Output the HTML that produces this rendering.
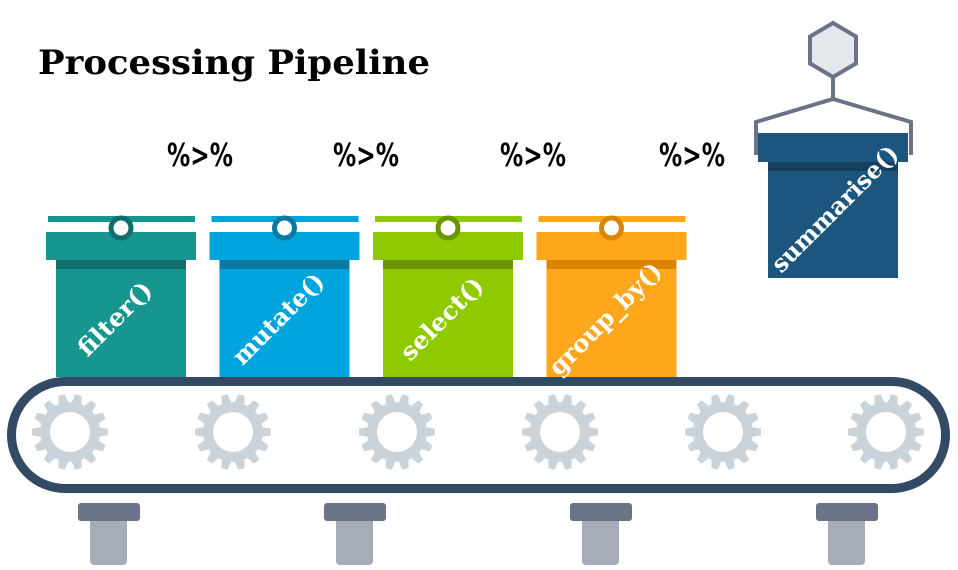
<!DOCTYPE html>
<html><head><meta charset="utf-8">
<style>
html,body{margin:0;padding:0;background:#fff;}
svg{display:block;}
</style></head>
<body>
<svg id="c" width="958" height="570" viewBox="0 0 958 570" xmlns="http://www.w3.org/2000/svg">
<text x="38" y="74" textLength="392" lengthAdjust="spacingAndGlyphs" font-family="DejaVu Serif, serif" font-weight="bold" font-size="34" fill="#000">Processing Pipeline</text>
<g id="gears"></g>
<rect x="11.5" y="381.5" width="934" height="107" rx="53.5" ry="53.5" fill="none" stroke="#324a63" stroke-width="9"/>
<g id="feet"></g>
<g id="boxes"></g>
<g id="pipes"></g>
<g>
  <polygon points="833,23 856,36.5 856,63.5 833,77 810,63.5 810,36.5" fill="#e4e7eb" stroke="#6b7387" stroke-width="4"/>
  <polyline points="833,77 833,99" fill="none" stroke="#6b7387" stroke-width="4"/>
  <polyline points="756,155 756,122 833,99 911,122 911,155" fill="none" stroke="#6b7387" stroke-width="4"/>
  <rect x="758" y="133" width="150" height="29" fill="#1c567f"/>
  <rect x="768" y="162" width="130" height="116" fill="#1c567f"/>
  <rect x="768" y="162" width="130" height="9" fill="#173f5f"/>
  <text x="836" y="210" transform="rotate(-45 836 210)" text-anchor="middle" dominant-baseline="middle" textLength="168" lengthAdjust="spacingAndGlyphs" font-family="DejaVu Serif, serif" font-weight="bold" font-size="24" fill="#fff">summarise()</text>
</g>
</svg>
<script>
const labels = ["filter()", "mutate()", "select()", "group_by()"];
const labelLengths = [94, 118, 106, 148];
const mainColors = ["#17968f", "#00a4dc", "#8fc900", "#ffa61a"];
const darkColors = ["#126e6b", "#0a7aa3", "#6a9500", "#d98500"];
const pipeLabels = ["%>%", "%>%", "%>%", "%>%"];
const pipeX = [200, 366, 533, 692];
const gearX = [70, 233, 397, 560, 723, 886];
const feetX = [78, 324, 570, 816];

const NS = "http://www.w3.org/2000/svg";
function mk(tag, attrs, parent){const e=document.createElementNS(NS,tag);for(const k in attrs)e.setAttribute(k,attrs[k]);parent.appendChild(e);return e;}

const boxes=document.getElementById('boxes');
labels.forEach((lab,i)=>{
  const x0=48+i*163.5;
  const g=mk('g',{},boxes);
  
  
  mk('rect',{x:x0,y:216,width:147,height:6,fill:mainColors[i]},g);
  mk('rect',{x:x0-2,y:232,width:150,height:28,fill:mainColors[i]},g);
  mk('rect',{x:x0+8,y:260,width:130,height:117,fill:mainColors[i]},g);
  mk('rect',{x:x0+8,y:260,width:130,height:9,fill:darkColors[i]},g);
  const c=mk('circle',{cx:x0+73,cy:228,r:10,fill:'#fff',stroke:darkColors[i],'stroke-width':5},g);
  
  
  const cx=x0+68, cy=320;
  const t=mk('text',{x:cx,y:cy,transform:`rotate(-45 ${cx} ${cy})`,'text-anchor':'middle','dominant-baseline':'middle',textLength:labelLengths[i],lengthAdjust:'spacingAndGlyphs','font-family':'DejaVu Serif, serif','font-weight':'bold','font-size':24,fill:'#fff'},g);
  t.textContent=lab;
  
  
});

const pipes=document.getElementById('pipes');
pipeLabels.forEach((p,i)=>{
  const t=mk('text',{x:pipeX[i],y:166,'text-anchor':'middle',textLength:66,lengthAdjust:'spacingAndGlyphs','font-family':'DejaVu Sans, sans-serif','font-weight':'bold','font-size':32,fill:'#000'},pipes);
  t.textContent=p;
  
  
});

const gears=document.getElementById('gears');
gearX.forEach(gx=>{
  const gy=432, n=14, ro=38, ri=30;
  let d='';
  for(let k=0;k<n;k++){
    const a=k*2*Math.PI/n, w=Math.PI/n*0.55;
    const pts=[[ri,a-w*1.3],[ro,a-w*0.7],[ro,a+w*0.7],[ri,a+w*1.3]];
    pts.forEach((p,j)=>{const x=gx+p[0]*Math.cos(p[1]),y=gy+p[0]*Math.sin(p[1]);d+=(k===0&&j===0?'M':'L')+x.toFixed(1)+','+y.toFixed(1);});
  }
  d+='Z';
  const gg=mk('g',{},gears);
  
  
  mk('path',{d:d,fill:'#cbd3da'},gg);
  mk('circle',{cx:gx,cy:gy,r:ri-1,fill:'#cbd3da'},gg);
  mk('circle',{cx:gx,cy:gy,r:20,fill:'#fff'},gg);
});

const feet=document.getElementById('feet');
feetX.forEach(fx=>{
  const g=mk('g',{},feet);
  
  
  mk('rect',{x:fx+12,y:515,width:37,height:50,rx:4,fill:'#a6adb8'},g);
  mk('rect',{x:fx,y:503,width:62,height:18,rx:3,fill:'#6b7387'},g);
});
</script>
</body></html>
